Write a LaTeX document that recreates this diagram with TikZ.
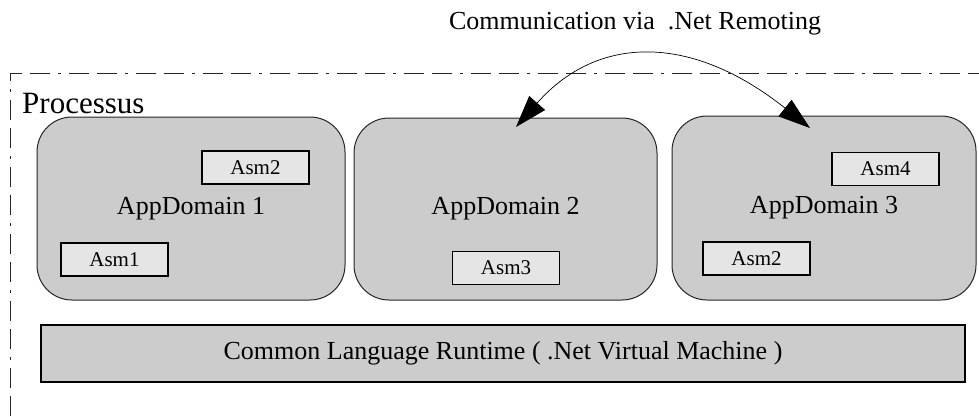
\documentclass[tikz,border=0pt]{standalone}
\usepackage{fontspec}
\setmainfont{Liberation Serif}
\usetikzlibrary{arrows.meta}

\begin{document}
\begin{tikzpicture}
	[x=1pt,y=-1pt,
	 frame/.style={draw=black!85,line width=1pt,dash pattern=on 20pt off 8pt on 20pt off 8pt on 3pt off 8pt},
	 domain/.style={draw=black!85,fill=black!20,rounded corners=35pt,line width=1pt,inner sep=0pt,minimum width=#1,font=\fontsize{26}{30}\selectfont},
	 asm/.style={draw=black,fill=black!10,line width=1.6pt,inner sep=0pt,minimum width=107pt,minimum height=33pt,font=\fontsize{21}{24}\selectfont},
	 clr/.style={draw=black,fill=black!20,line width=1.6pt,inner sep=0pt,minimum width=924pt,minimum height=57pt,font=\fontsize{26}{30}\selectfont},
	 remoting/.style={line width=0.7pt,{Triangle[length=32pt,width=21pt]}-{Triangle[length=32pt,width=21pt]}}]

	\useasboundingbox (0,0) rectangle (979,416);

	% process frame, open to the right and below
	\draw[frame] (10,416) -- (10,73) -- (979,73);
	\node[anchor=base west,font=\fontsize{31}{34}\selectfont,inner sep=0pt] (proc) at (22,113) {Processus};
	\node[anchor=base,font=\fontsize{26}{30}\selectfont,inner sep=0pt] (title) at (635,29) {Communication via\ \ .Net Remoting};

	% application domains
	\node[domain=308pt,minimum height=183pt] (dom1) at (191,208.5) {AppDomain 1};
	\node[domain=303pt,minimum height=182pt] (dom2) at (505.5,209) {AppDomain 2};
	\node[domain=304pt,minimum height=184pt] (dom3) at (824,208) {AppDomain 3};

	% assemblies
	\node[asm] (asm2a) at (255.5,167.5) {Asm2};
	\node[asm] (asm1) at (114.5,259.5) {Asm1};
	\node[asm] (asm3) at (506,268) {Asm3};
	\node[asm] (asm4) at (885.5,169) {Asm4};
	\node[asm] (asm2b) at (756.5,258.5) {Asm2};

	\node[clr] (clr) at (503,353.5) {Common Language Runtime ( .Net Virtual Machine )};

	\coordinate (tipL) at (516,127);
	\coordinate (tipR) at (810,128);
	\draw[remoting] (tipL) .. controls (598,34) and (692,34) .. (tipR);
\end{tikzpicture}
\end{document}
